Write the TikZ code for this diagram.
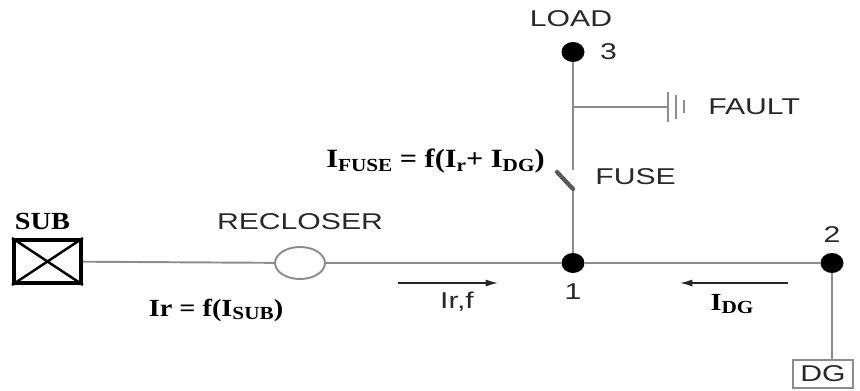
\documentclass[tikz,border=0pt]{standalone}
\usepackage{fontspec}
\setmainfont{Liberation Sans}
\newfontfamily\widesans[FakeStretch=1.32]{Liberation Sans}
\newfontfamily\tnr[FakeStretch=1.15]{Liberation Serif}
\usepackage{xcolor}
\definecolor{wiregray}{RGB}{140,140,140}
\definecolor{textgray}{RGB}{40,40,40}
\usetikzlibrary{positioning,shapes.geometric,arrows.meta}
\newcommand{\sbs}[1]{\raisebox{-0.3ex}{\fontsize{10.5}{10.5}\selectfont #1}}

\begin{document}
\begin{tikzpicture}[x=0.02cm,y=-0.02cm,
    wire/.style={draw=wiregray,line width=1.1pt},
    dot/.style={ellipse,fill=black,inner sep=0pt,minimum width=0.46cm,minimum height=0.4cm},
    lbl/.style={text=textgray,font=\widesans\fontsize{13}{15}\selectfont,inner sep=0pt},
    eqn/.style={font=\tnr\bfseries\fontsize{14}{16}\selectfont,inner sep=0pt},
    flow/.style={draw=black!85,line width=0.8pt,-{Latex[length=7pt,width=4pt]}}]
    \useasboundingbox (0,0) rectangle (860,391);

    % buses and equipment
    \node[dot] (n1) at (573,263) {};
    \node[dot] (n2) at (832,263) {};
    \node[dot] (n3) at (573,52) {};
    \node[draw=black,line width=2.2pt,minimum width=1.34cm,minimum height=0.86cm] (sub) at (47.5,261.5) {};
    \node[ellipse,draw=wiregray,fill=white,line width=1.1pt,minimum width=1cm,minimum height=0.64cm] (rec) at (300,263) {};
    \node[lbl,draw=wiregray,line width=0.9pt,minimum width=1.2cm,minimum height=0.56cm] (dg) at (823,374) {DG};
    \draw[line width=1.4pt] (sub.north west) -- (sub.south east) (sub.south west) -- (sub.north east);

    \coordinate (fb) at (573,189);
    \coordinate (ft) at (557,172);
    \coordinate (fu) at (573,170);
    \coordinate (fj) at (573,107);
    \coordinate (gnd) at (668,107);

    \draw[wire] (sub) -- (rec) -- (n1) -- (n2);
    \draw[wire] (n2) -- (n2 |- dg.north);
    \draw[wire] (n1) -- (fb);
    \draw[line width=2.4pt,draw=black!65,line cap=round] (fb) -- (ft);
    \draw[wire] (fu) -- (n3);
    \draw[wire] (fj) -- (gnd);
    \draw[wire] ([yshift=0.3cm]gnd) -- ([yshift=-0.3cm]gnd)
        ([xshift=0.16cm,yshift=0.24cm]gnd) -- ([xshift=0.16cm,yshift=-0.24cm]gnd)
        ([xshift=0.32cm,yshift=0.13cm]gnd) -- ([xshift=0.32cm,yshift=-0.13cm]gnd);

    % current arrows
    \coordinate (a1s) at (398,283);
    \coordinate (a1e) at (498,283);
    \coordinate (a2s) at (788,283);
    \coordinate (a2e) at (680,283);
    \draw[flow] (a1s) -- (a1e);
    \draw[flow] (a2s) -- (a2e);

    % labels
    \node[lbl,below=0.2cm of n1] (l1) {1};
    \node[lbl,above=0.2cm of n2] (l2) {2};
    \node[lbl,right=0.3cm of n3] (l3) {3};
    \node[lbl,above=0.3cm of n3,xshift=-0.04cm] (load) {LOAD};
    \node[lbl,above=0.32cm of rec] (reclbl) {RECLOSER};
    \node[lbl,right=0.8cm of gnd] (fault) {FAULT};
    \node[lbl,anchor=west] (fuselbl) at (595,177) {FUSE};
    \node[lbl] (irf) at (457,302) {Ir,f};
    \node[eqn,above=0.16cm of sub,xshift=-0.1cm] (sublbl) {SUB};
    \node[eqn] (irsub) at (216,310) {Ir = f(I\sbs{SUB})};
    \node[eqn] (idg) at (732,304) {I\sbs{DG}};
    \node[eqn,anchor=east,font=\tnr\bfseries\fontsize{15}{17}\selectfont] (ifuse) at (545,161) {I\sbs{FUSE} = f(I\sbs{r}+ I\sbs{DG})};
\end{tikzpicture}
\end{document}
